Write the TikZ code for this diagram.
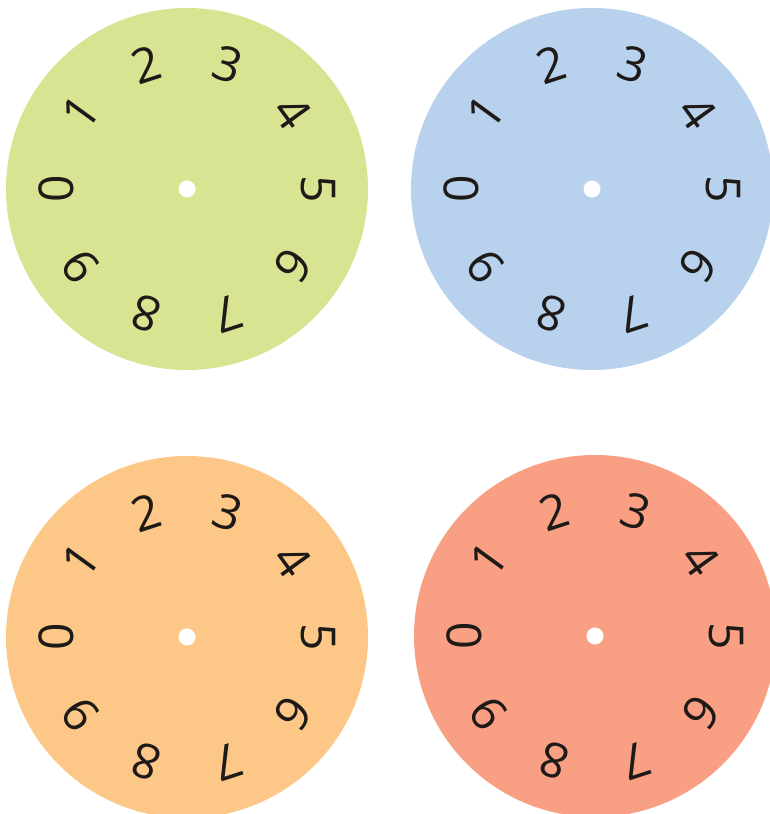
\documentclass[tikz,border=0pt]{standalone}
\usepackage{fontspec}
\setmainfont{Open Sans}
\definecolor{dialgreen}{HTML}{D9E492}
\definecolor{dialblue}{HTML}{B8D2ED}
\definecolor{dialorange}{HTML}{FDC887}
\definecolor{dialred}{HTML}{F89F84}
\definecolor{ink}{HTML}{1E1A18}
\newcommand\mydial[4]{%
  \begin{scope}[shift={(#1,#2)}]
    \fill[#3] (0,0) circle (181);
    \fill[white] (0,0) circle (8.5);
    \foreach \d in {0,...,9}{
      \pgfmathsetmacro\ang{180-36*\d}
      \node[digit, rotate=\ang-90] (#4-\d) at (\ang:131) {\d};
    }
  \end{scope}}
\begin{document}
\begin{tikzpicture}[x=1pt,y=1pt,
  digit/.style={font=\fontsize{48}{48}\selectfont, text=ink, inner sep=0pt}]
\useasboundingbox (0,0) rectangle (770,814);
\clip (0,0) rectangle (770,814);
\mydial{187}{625}{dialgreen}{g}
\mydial{592}{625}{dialblue}{b}
\mydial{187}{177}{dialorange}{o}
\mydial{595}{178}{dialred}{r}
\end{tikzpicture}
\end{document}
